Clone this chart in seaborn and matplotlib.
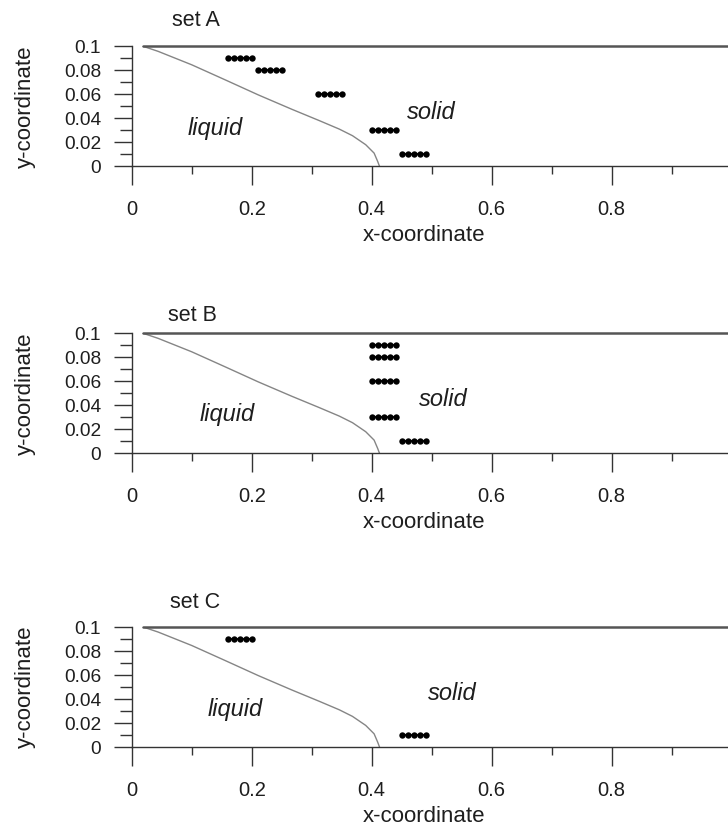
import matplotlib
matplotlib.use("Agg")
import matplotlib.pyplot as plt
from matplotlib.ticker import FixedLocator, FixedFormatter
import pandas as pd
import seaborn as sns

# Liquid/solid interface (same front in every set)
front_x = [0.019, 0.044, 0.100, 0.156, 0.211, 0.267, 0.313, 0.346, 0.368, 0.390, 0.404, 0.410, 0.413]
front_y = [0.100, 0.0958, 0.0846, 0.072, 0.0595, 0.0475, 0.038, 0.031, 0.0255, 0.018, 0.011, 0.004, 0.0]

# Top boundary of the domain
top_x = [0.019, 1.0]
top_y = [0.1, 0.1]

# Sensor rows for each set (x positions, row height)
set_names = ["set A", "set B", "set C"]

set_a_rows_y = [0.09, 0.08, 0.06, 0.03, 0.01]
set_a_rows_x = [
    [0.16, 0.17, 0.18, 0.19, 0.20],
    [0.21, 0.22, 0.23, 0.24, 0.25],
    [0.31, 0.32, 0.33, 0.34, 0.35],
    [0.40, 0.41, 0.42, 0.43, 0.44],
    [0.45, 0.46, 0.47, 0.48, 0.49],
]

set_b_rows_y = [0.09, 0.08, 0.06, 0.03, 0.01]
set_b_rows_x = [
    [0.40, 0.41, 0.42, 0.43, 0.44],
    [0.40, 0.41, 0.42, 0.43, 0.44],
    [0.40, 0.41, 0.42, 0.43, 0.44],
    [0.40, 0.41, 0.42, 0.43, 0.44],
    [0.45, 0.46, 0.47, 0.48, 0.49],
]

set_c_rows_y = [0.09, 0.01]
set_c_rows_x = [
    [0.16, 0.17, 0.18, 0.19, 0.20],
    [0.45, 0.46, 0.47, 0.48, 0.49],
]

x_ticks = [0, 0.2, 0.4, 0.6, 0.8, 1.0]
x_tick_labels = ["0", "0.2", "0.4", "0.6", "0.8", "1"]
x_minor = [0.1, 0.3, 0.5, 0.7, 0.9]
y_ticks = [0, 0.02, 0.04, 0.06, 0.08, 0.1]
y_tick_labels = ["0", "0.02", "0.04", "0.06", "0.08", "0.1"]
y_minor = [0.01, 0.03, 0.05, 0.07, 0.09]


def rows_frame(rows_x, rows_y):
    recs = []
    for i, (xs, yv) in enumerate(zip(rows_x, rows_y)):
        for xv in xs:
            recs.append({"x": xv, "y": yv, "row": i})
    return pd.DataFrame(recs)


sets = [
    rows_frame(set_a_rows_x, set_a_rows_y),
    rows_frame(set_b_rows_x, set_b_rows_y),
    rows_frame(set_c_rows_x, set_c_rows_y),
]

sns.set_theme(style="ticks")
plt.rcParams["font.family"] = ["Liberation Sans", "DejaVu Sans"]
text_color = "#1e1e1e"
line_color = "#333333"

fig = plt.figure(figsize=(7.28, 8.24), dpi=100)
W, H = 728.0, 824.0
ax_left, ax_w, ax_h = 131.7, 600.0, 120.0
ax_tops = [46.3, 333.3, 627.0]

# per-panel placement of the captions and region names (axes / data coords)
title_pos = [(0.107, 1.218), (0.101, 1.149), (0.105, 1.20)]
liquid_pos = [(0.139, 0.0316), (0.159, 0.032), (0.172, 0.031)]
solid_pos = [(0.499, 0.045), (0.519, 0.0446), (0.534, 0.045)]

front_df = pd.DataFrame({"x": front_x, "y": front_y})
top_df = pd.DataFrame({"x": top_x, "y": top_y})

for k, df in enumerate(sets):
    top = ax_tops[k]
    ax = fig.add_axes([ax_left / W, (H - top - ax_h) / H, ax_w / W, ax_h / H])
    ax.set_facecolor("white")

    sns.lineplot(data=front_df, x="x", y="y", sort=False, estimator=None,
                 color="#858585", lw=1.0, ax=ax)
    sns.lineplot(data=top_df, x="x", y="y", sort=False, estimator=None,
                 color="#555555", lw=1.8, ax=ax, clip_on=False)
    sns.lineplot(data=df, x="x", y="y", units="row", estimator=None, sort=False,
                 color="black", lw=1.3, marker="o", markersize=4.6,
                 markeredgewidth=0, ax=ax)

    ax.set_xlim(0, 1)
    ax.set_ylim(0, 0.1)

    ax.xaxis.set_major_locator(FixedLocator(x_ticks))
    ax.xaxis.set_major_formatter(FixedFormatter(x_tick_labels))
    ax.xaxis.set_minor_locator(FixedLocator(x_minor))
    ax.yaxis.set_major_locator(FixedLocator(y_ticks))
    ax.yaxis.set_major_formatter(FixedFormatter(y_tick_labels))
    ax.yaxis.set_minor_locator(FixedLocator(y_minor))

    ax.tick_params(axis="x", which="major", direction="out", length=13.7, width=1.0,
                   color=line_color, pad=10.5, labelsize=14.5, labelcolor=text_color)
    ax.tick_params(axis="x", which="minor", direction="out", length=5.5, width=1.0,
                   color=line_color)
    ax.tick_params(axis="y", which="major", direction="out", length=13, width=1.0,
                   color=line_color, pad=9.0, labelsize=13.8, labelcolor=text_color)
    ax.tick_params(axis="y", which="minor", direction="out", length=9, width=1.0,
                   color=line_color)

    for side in ("top", "right"):
        ax.spines[side].set_visible(False)
    for side in ("left", "bottom"):
        ax.spines[side].set_color(line_color)
        ax.spines[side].set_linewidth(1.0)

    ax.set_xlabel("x-coordinate", fontsize=16, color=text_color)
    ax.set_ylabel("y-coordinate", fontsize=16, color=text_color)
    ax.xaxis.set_label_coords(0.487, -0.49)
    ax.yaxis.set_label_coords(-0.16, 0.5)

    tx, ty = title_pos[k]
    ax.text(tx, ty, set_names[k], transform=ax.transAxes, ha="center", va="center",
            fontsize=15.5, color=text_color)
    lx, ly = liquid_pos[k]
    ax.text(lx, ly, "liquid", ha="center", va="center", fontsize=17,
            style="italic", color=text_color)
    sx, sy = solid_pos[k]
    ax.text(sx, sy, "solid", ha="center", va="center", fontsize=17,
            style="italic", color=text_color)

    if ax.get_legend() is not None:
        ax.get_legend().remove()

fig.savefig("out.png", dpi=100, facecolor="white")
